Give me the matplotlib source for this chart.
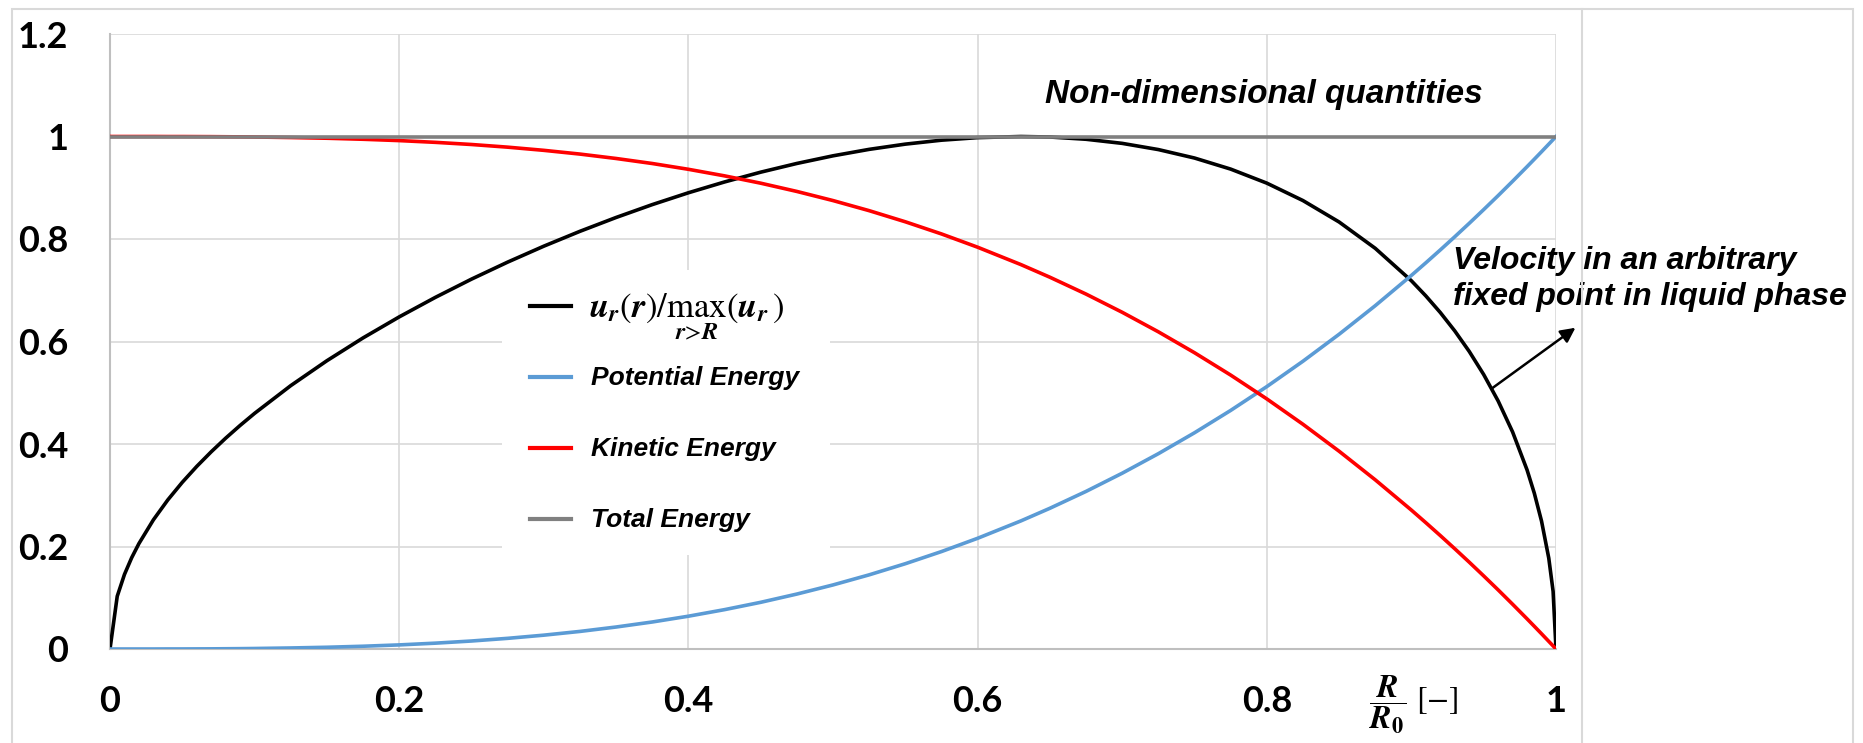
import matplotlib
matplotlib.use("Agg")
import matplotlib.pyplot as plt
from matplotlib.lines import Line2D
from matplotlib.patches import Rectangle

# values (R / R0 on the x axis)
r_ratio = [0, 0.005, 0.01, 0.015, 0.02, 0.03, 0.04, 0.05, 0.06, 0.07, 0.08, 0.09, 0.1,
           0.125, 0.15, 0.175, 0.2, 0.225, 0.25, 0.275, 0.3, 0.325, 0.35, 0.375, 0.4,
           0.425, 0.45, 0.475, 0.5, 0.525, 0.55, 0.575, 0.6, 0.63, 0.65, 0.675, 0.7,
           0.725, 0.75, 0.775, 0.8, 0.825, 0.85, 0.875, 0.9, 0.91, 0.92, 0.93, 0.94,
           0.95, 0.96, 0.97, 0.98, 0.985, 0.99, 0.995, 0.998, 1.0]
velocity = [0, 0.1029, 0.1455, 0.1782, 0.2057, 0.2520, 0.2910, 0.3253, 0.3563, 0.3848,
            0.4114, 0.4363, 0.4598, 0.5139, 0.5625, 0.6070, 0.6480, 0.6861, 0.7217,
            0.7549, 0.7860, 0.8150, 0.8420, 0.8671, 0.8902, 0.9113, 0.9304, 0.9474,
            0.9623, 0.9749, 0.9851, 0.9928, 0.9978, 1.0, 0.9990, 0.9946, 0.9866, 0.9745,
            0.9580, 0.9364, 0.9090, 0.8750, 0.8332, 0.7818, 0.7185, 0.6889, 0.6565,
            0.6206, 0.5806, 0.5355, 0.4839, 0.4234, 0.3493, 0.3040, 0.2495, 0.1773,
            0.1125, 0]
potential = [0, 0, 0, 0, 0, 0, 0.0001, 0.0001, 0.0002, 0.0003, 0.0005, 0.0007, 0.001,
             0.002, 0.0034, 0.0054, 0.008, 0.0114, 0.0156, 0.0208, 0.027, 0.0343, 0.0429,
             0.0527, 0.064, 0.0768, 0.0911, 0.1072, 0.125, 0.1447, 0.1664, 0.1901, 0.216,
             0.25, 0.2746, 0.3075, 0.343, 0.3811, 0.4219, 0.4655, 0.512, 0.5615, 0.6141,
             0.6699, 0.729, 0.7536, 0.7787, 0.8044, 0.8306, 0.8574, 0.8847, 0.9127,
             0.9412, 0.9557, 0.9703, 0.9851, 0.994, 1.0]
kinetic = [1, 1, 1, 1, 1, 1, 0.9999, 0.9999, 0.9998, 0.9997, 0.9995, 0.9993, 0.999,
           0.998, 0.9966, 0.9946, 0.992, 0.9886, 0.9844, 0.9792, 0.973, 0.9657, 0.9571,
           0.9473, 0.936, 0.9232, 0.9089, 0.8928, 0.875, 0.8553, 0.8336, 0.8099, 0.784,
           0.75, 0.7254, 0.6925, 0.657, 0.6189, 0.5781, 0.5345, 0.488, 0.4385, 0.3859,
           0.3301, 0.271, 0.2464, 0.2213, 0.1956, 0.1694, 0.1426, 0.1153, 0.0873, 0.0588,
           0.0443, 0.0297, 0.0149, 0.006, 0]
total = [1.0] * len(r_ratio)

x_ticks = [0, 0.2, 0.4, 0.6, 0.8, 1]
x_tick_labels = ['0', '0.2', '0.4', '0.6', '0.8', '1']
y_ticks = [0, 0.2, 0.4, 0.6, 0.8, 1.0, 1.2]
y_tick_labels = ['0', '0.2', '0.4', '0.6', '0.8', '1', '1.2']

labels = [r'$\mathbfit{u}_{\mathbfit{r}}(\mathbfit{r})/\max_{\mathbfit{r}>\mathbfit{R}}(\mathbfit{u}_{\mathbfit{r}})$',
          'Potential Energy', 'Kinetic Energy', 'Total Energy']
colors = ['black', '#5B9BD5', '#FF0000', '#808080']

plt.rcParams['mathtext.fontset'] = 'stix'

W, H = 1863, 743
fig = plt.figure(figsize=(W / 100, H / 100), dpi=100)
ax = fig.add_axes([110 / W, 1 - 649 / H, 1446 / W, 615 / H])


def fx(px):
    return px / W


def fy(px):
    return 1 - px / H


# chart frame and plot-area edge, as in the spreadsheet chart
fig.patches.append(Rectangle((fx(12), -0.05), 1841 / W, 1.05 - 9 / H, transform=fig.transFigure,
                             fill=False, edgecolor='#D9D9D9', lw=1.5))
fig.lines.append(Line2D([fx(1582), fx(1582)], [0, fy(9)], transform=fig.transFigure,
                        color='#D9D9D9', lw=1.5))

series = [velocity, potential, kinetic, total]
for vals, col in zip(series, colors):
    ax.plot(r_ratio, vals, color=col, lw=2.6, solid_joinstyle='round', zorder=3)

ax.set_xlim(0, 1)
ax.set_ylim(0, 1.2)
ax.set_xticks(x_ticks)
ax.set_xticklabels(x_tick_labels)
ax.set_yticks(y_ticks)
ax.set_yticklabels(y_tick_labels)
ax.grid(True, color='#D9D9D9', lw=1.2)
ax.set_axisbelow(True)
for side in ['top', 'right']:
    ax.spines[side].set_visible(False)
for side in ['left', 'bottom']:
    ax.spines[side].set_color('#BFBFBF')
    ax.spines[side].set_linewidth(1.5)
ax.tick_params(length=0)
ax.tick_params(axis='y', pad=30)
ax.tick_params(axis='x', pad=26)
for t in ax.get_xticklabels() + ax.get_yticklabels():
    t.set_fontfamily('Lato')
    t.set_fontweight('bold')
    t.set_fontsize(26)

# legend, laid out like the spreadsheet legend (white box over the grid)
ax.add_patch(Rectangle((fx(502), fy(555)), 328 / W, 285 / H, transform=fig.transFigure,
                       facecolor='white', edgecolor='none', zorder=2))
row_y = [306, 377, 448, 519]
for i, (lab, col) in enumerate(zip(labels, colors)):
    ax.add_line(Line2D([fx(530), fx(571)], [fy(row_y[i]), fy(row_y[i])], transform=fig.transFigure,
                       color=col, lw=3, clip_on=False, zorder=4))
    if i == 0:
        ax.text(fx(589), fy(row_y[i] + 12), lab, transform=fig.transFigure, fontsize=25,
                va='baseline', ha='left', zorder=4)
    else:
        ax.text(fx(591), fy(row_y[i] + 8), lab, transform=fig.transFigure, fontsize=19,
                family='Liberation Sans', weight='bold', style='italic',
                va='baseline', ha='left', zorder=4)

ax.text(0.798, 1.082, 'Non-dimensional quantities', ha='center', va='center',
        fontsize=24, family='Liberation Sans', weight='bold', style='italic')
ax.text(0.929, 0.722, 'Velocity in an arbitrary\nfixed point in liquid phase', ha='left',
        va='center', fontsize=23, family='Liberation Sans', weight='bold', style='italic',
        linespacing=1.3, clip_on=False)
ax.annotate('', xy=(1.015, 0.63), xytext=(0.954, 0.505), annotation_clip=False,
            arrowprops=dict(arrowstyle='-|>', color='black', lw=1.8, mutation_scale=22))

fig.text(fx(1414), fy(705), r'$\dfrac{\mathbfit{R}}{\mathbfit{R}_{\mathbf{0}}}\ [-]$',
         ha='center', va='center', fontsize=23)

fig.savefig('out.png', dpi=100, facecolor='white')
